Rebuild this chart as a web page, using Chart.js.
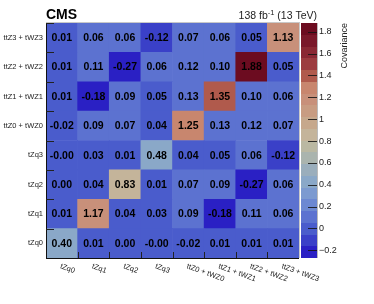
<!DOCTYPE html>
<html><head><meta charset="utf-8">
<script src="https://cdn.jsdelivr.net/npm/chart.js@4.4.1/dist/chart.umd.min.js"></script>
<style>html,body{margin:0;padding:0;background:#fff}canvas{display:block}</style>
</head><body>
<canvas id="c" width="374" height="304"></canvas>
<script>
const binLabels = ['tZq0','tZq1','tZq2','tZq3','ttZ0 + tWZ0','ttZ1 + tWZ1','ttZ2 + tWZ2','ttZ3 + tWZ3'];
// one row per y bin (bottom to top), values per x bin (left to right)
const covTZq0 = [0.40, 0.01, 0.00, -0.004, -0.02, 0.01, 0.01, 0.01];
const covTZq1 = [0.01, 1.17, 0.04, 0.03, 0.09, -0.18, 0.11, 0.06];
const covTZq2 = [0.00, 0.04, 0.83, 0.01, 0.07, 0.09, -0.27, 0.06];
const covTZq3 = [-0.004, 0.03, 0.01, 0.48, 0.04, 0.05, 0.06, -0.12];
const covTTZ0 = [-0.02, 0.09, 0.07, 0.04, 1.25, 0.13, 0.12, 0.07];
const covTTZ1 = [0.01, -0.18, 0.09, 0.05, 0.13, 1.35, 0.10, 0.06];
const covTTZ2 = [0.01, 0.11, -0.27, 0.06, 0.12, 0.10, 1.88, 0.05];
const covTTZ3 = [0.01, 0.06, 0.06, -0.12, 0.07, 0.06, 0.05, 1.13];
const covRows = [covTZq0, covTZq1, covTZq2, covTZq3, covTTZ0, covTTZ1, covTTZ2, covTTZ3];
const zMin = -0.27, zMax = 1.88;
const colorbarTicks = [-0.2, 0, 0.2, 0.4, 0.6, 0.8, 1, 1.2, 1.4, 1.6, 1.8];
const palette = ['#2a20c4','#3a40c8','#4a5ccc','#5c72d0','#6c88d2','#7c9ad0','#8aa8c8','#9aaebc','#aab4ae','#bab8a2',
                 '#c4b49a','#c6a88c','#c89c82','#c8907a','#c8866e','#b05a4c','#9c3c40','#8a2834','#7a182a','#6c0c20'];
function colorFor(v){
  let k = Math.floor((v - zMin) / (zMax - zMin) * palette.length);
  k = Math.max(0, Math.min(palette.length - 1, k));
  return palette[k];
}
const FONT = "'Liberation Sans', Arial, Helvetica, sans-serif";

const deco = {
  id: 'deco',
  beforeDraw(chart){
    const ctx = chart.ctx;
    ctx.save(); ctx.fillStyle = '#fff'; ctx.fillRect(0,0,chart.width,chart.height); ctx.restore();
  },
  afterDatasetsDraw(chart){
    const ctx = chart.ctx;
    ctx.save();
    ctx.font = "bold 10.5px " + FONT;
    ctx.fillStyle = '#000';
    ctx.textAlign = 'center';
    ctx.textBaseline = 'middle';
    covRows.forEach((row, r) => {
      const meta = chart.getDatasetMeta(r);
      meta.data.forEach((el, c) => {
        ctx.fillText(row[c].toFixed(2), el.x, (el.y + el.base) / 2 + 0.5);
      });
    });
    ctx.restore();
  },
  afterDraw(chart){
    const ctx = chart.ctx;
    const a = chart.chartArea;
    const xs = chart.scales.x, ys = chart.scales.y, cb = chart.scales.cb;
    ctx.save();
    // frame
    ctx.lineWidth = 1;
    ctx.strokeStyle = '#c8c8c8';
    ctx.beginPath();
    ctx.moveTo(a.left, a.top - 0.5); ctx.lineTo(a.right + 1, a.top - 0.5);
    ctx.moveTo(a.right + 0.5, a.top); ctx.lineTo(a.right + 0.5, a.bottom);
    ctx.stroke();
    ctx.strokeStyle = '#111';
    ctx.beginPath();
    ctx.moveTo(a.left + 0.5, a.top); ctx.lineTo(a.left + 0.5, a.bottom + 1);
    ctx.moveTo(a.left, a.bottom + 0.5); ctx.lineTo(a.right, a.bottom + 0.5);
    ctx.stroke();
    // tick marks at bin edges
    ctx.strokeStyle = '#222';
    ctx.beginPath();
    for (let r = 1; r <= binLabels.length; r++) {
      const y = Math.round(ys.getPixelForValue(r)) + 0.5;
      ctx.moveTo(a.left, y); ctx.lineTo(a.left + 8, y);
    }
    for (let c = 1; c < binLabels.length; c++) {
      const x = Math.round((xs.getPixelForValue(c - 1) + xs.getPixelForValue(c)) / 2) + 0.5;
      ctx.moveTo(x, a.bottom); ctx.lineTo(x, a.bottom - 6);
    }
    ctx.stroke();
    // x labels (rotated clockwise)
    ctx.font = "7.5px " + FONT;
    ctx.fillStyle = '#222';
    ctx.textAlign = 'left';
    ctx.textBaseline = 'top';
    binLabels.forEach((lab, i) => {
      const x = xs.getPixelForValue(i);
      ctx.save();
      ctx.translate(x, a.bottom + 4.5);
      ctx.rotate(20 * Math.PI / 180);
      ctx.fillText(lab, 0, 0);
      ctx.restore();
    });
    // colour bar
    const cbL = a.right + 2, cbR = a.right + 18;
    const n = palette.length;
    for (let k = 0; k < n; k++) {
      const v0 = zMin + k * (zMax - zMin) / n, v1 = zMin + (k + 1) * (zMax - zMin) / n;
      const yb = Math.round(cb.getPixelForValue(v0)), yt = Math.round(cb.getPixelForValue(v1));
      ctx.fillStyle = palette[k];
      ctx.fillRect(cbL, yt, cbR - cbL, yb - yt);
    }
    ctx.strokeStyle = '#bbb';
    ctx.beginPath();
    ctx.moveTo(cbR + 0.5, a.top); ctx.lineTo(cbR + 0.5, a.bottom);
    ctx.stroke();
    ctx.strokeStyle = 'rgba(20,20,20,0.85)';
    ctx.beginPath();
    colorbarTicks.forEach(v => {
      const y = Math.round(cb.getPixelForValue(v)) + 0.5;
      ctx.moveTo(cbR - 9, y); ctx.lineTo(cbR, y);
    });
    ctx.stroke();
    // colour bar title
    ctx.save();
    ctx.font = "9px " + FONT;
    ctx.fillStyle = '#222';
    ctx.textAlign = 'right';
    ctx.textBaseline = 'middle';
    ctx.translate(345, a.top);
    ctx.rotate(-Math.PI / 2);
    ctx.fillText('Covariance', 0, 0);
    ctx.restore();
    // header
    ctx.fillStyle = '#000';
    ctx.textBaseline = 'alphabetic';
    ctx.textAlign = 'left';
    ctx.font = "bold 14px " + FONT;
    ctx.fillText('CMS', a.left, 19);
    const right = cbR;
    ctx.font = "10.5px " + FONT;
    const p3 = ' (13 TeV)';
    const w3 = ctx.measureText(p3).width;
    ctx.font = "7.5px " + FONT;
    const p2 = '-1';
    const w2 = ctx.measureText(p2).width;
    ctx.font = "10.5px " + FONT;
    const p1 = '138 fb';
    const w1 = ctx.measureText(p1).width;
    let x0 = right - w3 - w2 - w1;
    ctx.fillStyle = '#222';
    ctx.fillText(p1, x0, 18.5);
    ctx.font = "7.5px " + FONT;
    ctx.fillText(p2, x0 + w1, 14.5);
    ctx.font = "10.5px " + FONT;
    ctx.fillText(p3, x0 + w1 + w2, 18.5);
    ctx.restore();
  }
};

new Chart(document.getElementById('c'), {
  type: 'bar',
  data: {
    labels: binLabels,
    datasets: covRows.map((row, r) => ({
      label: binLabels[r],
      data: row.map(() => [r, r + 1]),
      backgroundColor: row.map(colorFor),
      borderWidth: 0,
      barPercentage: 1,
      categoryPercentage: 1,
      grouped: false,
      yAxisID: 'y'
    }))
  },
  options: {
    responsive: false,
    animation: false,
    devicePixelRatio: 1,
    layout: { padding: { top: 23, bottom: 46, left: 0, right: 0 } },
    plugins: { legend: { display: false }, tooltip: { enabled: false }, title: { display: false } },
    scales: {
      x: { type: 'category', display: false, offset: true },
      y: {
        type: 'linear', position: 'left', min: 0, max: binLabels.length,
        afterBuildTicks: s => { s.ticks = binLabels.map((_, i) => ({ value: i + 0.5 })); },
        afterFit: s => { s.width = 46; s.paddingTop = 0; s.paddingBottom = 0; },
        ticks: { autoSkip: false, padding: 3, color: '#222', font: { family: FONT, size: 7.5 },
                 callback: (v, i) => binLabels[i] },
        grid: { display: false, drawTicks: false }, border: { display: false }
      },
      cb: {
        type: 'linear', position: 'right', min: zMin, max: zMax,
        afterBuildTicks: s => { s.ticks = colorbarTicks.map(v => ({ value: v })); },
        afterFit: s => { s.width = 75; s.paddingTop = 0; s.paddingBottom = 0; },
        ticks: { autoSkip: false, padding: 20, color: '#222', font: { family: FONT, size: 9 },
                 callback: v => v < 0 ? '\u2212' + Math.abs(v) : String(v) },
        grid: { display: false, drawTicks: false }, border: { display: false }
      }
    }
  },
  plugins: [deco]
});
</script>
</body></html>
